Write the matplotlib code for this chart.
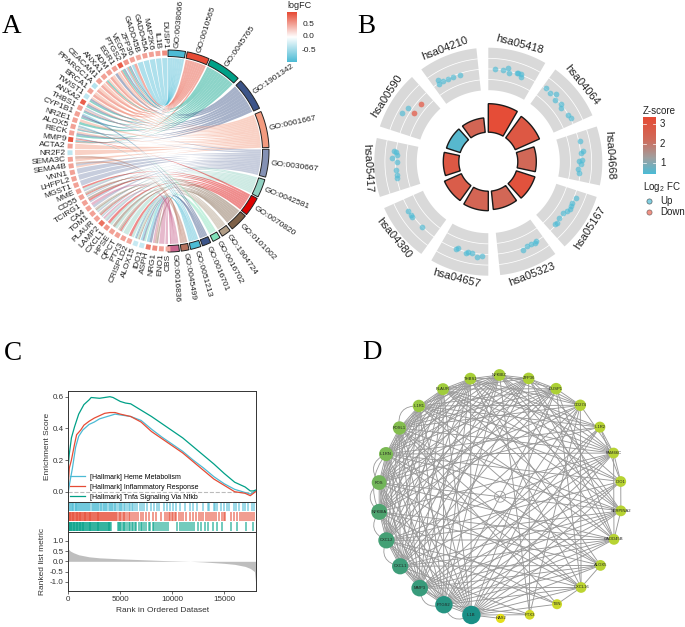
import numpy as np
import matplotlib
matplotlib.use('Agg')
import matplotlib.pyplot as plt
from matplotlib.colors import LinearSegmentedColormap, Normalize
from matplotlib.patches import PathPatch, Polygon, Circle
from matplotlib.path import Path

plt.rcParams['font.family'] = ['Liberation Sans', 'DejaVu Sans']
plt.rcParams['mathtext.fontset'] = 'custom'
plt.rcParams['mathtext.rm'] = 'Liberation Sans'
plt.rcParams['mathtext.default'] = 'rm'

# ---- panel A data
genes = ['DUSP1', 'IL1B', 'MAP2K6', 'GADD45A', 'GADD45B', 'ZFP36', 'VEGFA', 'PTGS2', 'EGR1', 'ADM', 'ANXA1',
         'CEACAM1', 'PPARGC1A', 'BRCA1', 'TWIST1', 'ANXA2', 'THBS1', 'CYP1B1', 'NR2E1', 'ALOX5', 'RECK', 'MMP9',
         'ACTA2', 'NR2F2', 'SEMA3C', 'SEMA4B', 'VNN1', 'LHFPL2', 'MGST1', 'MME', 'CD55', 'TCIRG1', 'CA4', 'TOM1',
         'PLAUR', 'LAMP2', 'CXCL1', 'HPSE', 'QPCT', 'PTX3', 'CRISPLD2', 'ALOX15', 'IDO1', 'ASPH', 'NRG1', 'ENO1', 'CBS']
gene_fc = [0.6, 0.5, 0.5, 0.5, 0.45, 0.5, 0.55, 0.85, 0.5, 0.5, 0.5, 0.5, -0.4, 0.5, -0.35, 0.85, 0.5, 0.5, 0.5,
           0.5, 0.5, 0.9, 0.5, -0.35, 0.5, 0.5, 0.5, 0.5, 0.5, 0.5, 0.5, 0.5, 0.5, 0.5, 0.5, 0.75, 0.55, 0.5, 0.5,
           0.5, 0.45, -0.3, -0.3, 0.7, 0.6, 0.5, 0.45]
go_terms = ['GO:0038066', 'GO:0010565', 'GO:0045765', 'GO:1901342', 'GO:0001667', 'GO:0030667', 'GO:0042581',
            'GO:0070820', 'GO:0101002', 'GO:1904724', 'GO:0016702', 'GO:0016701', 'GO:0051213', 'GO:0045499',
            'GO:0016836']
go_start = [90, 79, 65, 44, 23, 1, -16.5, -28, -40, -52, -59, -65, -71, -78, -83.5]
go_end = [80, 66, 46, 25, 2, -15, -27, -39, -50.5, -57.5, -63.5, -70, -77, -82.5, -90]
go_colors = ['#4DBBD5', '#E64B35', '#00A087', '#3C5488', '#F39B7F', '#8491B4', '#91D1C2', '#DC0000', '#7E6148',
             '#B09C85', '#7FE0B8', '#3C5488', '#4DBBD5', '#B5715C', '#C9648E']
go_links = [
    ['DUSP1', 'IL1B', 'MAP2K6', 'GADD45A', 'GADD45B', 'ZFP36', 'VEGFA'],
    ['ZFP36', 'VEGFA', 'PTGS2', 'ADM', 'ANXA1', 'CEACAM1', 'PPARGC1A', 'BRCA1', 'MMP9'],
    ['VEGFA', 'PTGS2', 'ANXA1', 'TWIST1', 'ANXA2', 'THBS1', 'CYP1B1', 'NR2E1', 'ALOX5', 'RECK', 'MMP9'],
    ['VEGFA', 'PTGS2', 'EGR1', 'TWIST1', 'ANXA2', 'THBS1', 'CYP1B1', 'ALOX5', 'RECK', 'MMP9'],
    ['EGR1', 'ADM', 'ANXA1', 'CEACAM1', 'PPARGC1A', 'BRCA1', 'TWIST1', 'ANXA2', 'THBS1', 'NR2E1', 'ALOX5', 'RECK',
     'MMP9', 'ACTA2', 'NR2F2', 'SEMA3C', 'SEMA4B'],
    ['THBS1', 'ALOX5', 'SEMA4B', 'VNN1', 'LHFPL2', 'MGST1', 'MME', 'CD55', 'TCIRG1', 'CA4', 'TOM1', 'PLAUR', 'LAMP2'],
    ['MME', 'CD55', 'TOM1', 'PLAUR', 'LAMP2', 'CXCL1', 'HPSE', 'QPCT', 'PTX3', 'CRISPLD2'],
    ['MMP9', 'MME', 'CD55', 'TCIRG1', 'PLAUR', 'CXCL1', 'QPCT', 'CRISPLD2'],
    ['CD55', 'TCIRG1', 'TOM1', 'PLAUR', 'HPSE', 'QPCT', 'ALOX15', 'NRG1'],
    ['CD55', 'TOM1', 'PLAUR', 'QPCT', 'ALOX15'],
    ['ALOX5', 'ALOX15', 'IDO1'],
    ['CYP1B1', 'ALOX5', 'ALOX15', 'IDO1', 'ASPH'],
    ['CYP1B1', 'ALOX5', 'MMP9', 'ALOX15', 'IDO1', 'ASPH'],
    ['SEMA3C', 'SEMA4B', 'NRG1'],
    ['CA4', 'LAMP2', 'NRG1', 'ENO1', 'CBS'],
]

# ---- panel B data
terms = ['hsa05418', 'hsa04064', 'hsa04668', 'hsa05167', 'hsa05323', 'hsa04657', 'hsa04380', 'hsa05417',
         'hsa00590', 'hsa04210']
zscore = [3.3, 2.9, 2.3, 3.1, 2.35, 2.4, 2.7, 2.9, 0.55, 2.4]
bar_height = [28.5, 26.5, 18.5, 19.5, 18.5, 19.5, 18.5, 15.5, 14.5, 14.5]
dot_pos = [
    [4.1, 8.9, 12.1, 13.2, 17.8, 18.8, 20.4, 21.2],
    [2.1, 6.1, 9.1, 11.4, 15.7, 17.7, 23.4, 25.9],
    [5.3, 11.4, 12.8, 17, 17.6, 19.2, 22.7, 24.9],
    [4.8, 8.4, 10.1, 12.3, 14, 16.8, 20.6, 23.8, 25.2],
    [4.9, 6, 8.7, 11.5, 14.8],
    [3.6, 7, 9.9, 12.5, 13.9, 19.2, 20.3],
    [9.3, 17.8, 19.5, 22.5],
    [7.7, 9.7, 12.9, 18, 20, 22.2, 23.8, 24.5],
    [11.3, 16, 15.4, 22.4],
    [4.5, 3.8, 6.8, 9.7, 13.6, 17.9],
]
dot_fc = [
    [0.02, 0, 0.25, -0.19, 0, 0.04, 0.06, -0.23],
    [0.11, -0.03, 0.25, -0.17, -0.02, -0.26, -0.06, 0.05],
    [0.11, 0.26, -0.01, 0.11, -0.17, 0.02, -0.24, -0.14],
    [0.18, 0.09, 0.11, 0.17, -0.04, -0.22, -0.19, -0.11, -0.12],
    [-0.05, 0.06, 0.02, -0.05, 0.19],
    [0.16, 0.3, 0.02, -0.06, 0.15, -0.13, 0.02],
    [0.05, 0.13, 0.13, 0.09],
    [0.04, -0.09, 0.02, -0.14, 0.3, -0.08, 0, 0.21],
    [0.55, 0.35, -0.36, -0.42],
    [0.28, -0.08, -0.04, -0.09, -0.08, -0.15],
]
dot_down = [
    [], [], [], [], [], [], [], [], [2, 3], [],
]

# ---- panel C data
rank_green = [0, 100, 300, 600, 1000, 1500, 2000, 2200, 3000, 3500, 4000, 4300, 5000, 5500, 6000, 7000, 8000, 9000,
              10000, 11000, 12000, 13000, 14000, 15000, 16000, 17000, 17500, 17800, 18000]
es_green = [0.17, 0.24, 0.34, 0.41, 0.49, 0.55, 0.58, 0.595, 0.59, 0.595, 0.60, 0.595, 0.57, 0.56, 0.555, 0.515,
            0.475, 0.43, 0.385, 0.34, 0.285, 0.23, 0.175, 0.115, 0.06, 0.03, 0.005, 0.005, 0.01]
rank_red = [0, 100, 300, 600, 800, 1200, 1500, 2000, 2500, 3000, 3500, 4000, 4500, 5000, 6000, 7000, 8000, 9000,
            10000, 11000, 12000, 13000, 14000, 15000, 16000, 17000, 17500, 18000]
es_red = [0.05, 0.15, 0.2, 0.3, 0.36, 0.39, 0.42, 0.445, 0.465, 0.48, 0.495, 0.50, 0.5, 0.49, 0.475, 0.44, 0.38,
          0.335, 0.29, 0.245, 0.19, 0.135, 0.08, 0.04, 0.0, -0.01, -0.025, 0.0]
rank_blue = [0, 150, 400, 700, 1000, 1400, 2000, 2500, 3000, 3500, 4000, 4500, 5000, 6000, 7000, 8000, 9000, 10000,
             11000, 12000, 13000, 14000, 15000, 16000, 17000, 17500, 18000]
es_blue = [0.0, 0.06, 0.15, 0.28, 0.35, 0.39, 0.425, 0.44, 0.46, 0.47, 0.48, 0.49, 0.485, 0.475, 0.45, 0.395, 0.345,
           0.30, 0.255, 0.2, 0.15, 0.095, 0.05, 0.015, -0.005, -0.015, 0.005]
hits_blue = [100, 180, 260, 340, 430, 500, 620, 700, 780, 860, 950, 1020, 1100, 1180, 1300, 1380, 1500, 1580, 1700,
             1790, 1860, 2000, 2100, 2250, 2330, 2450, 2600, 2680, 2800, 2880, 3000, 3100, 3180, 3300, 3430, 3500,
             3640, 3720, 3900, 3980, 4100, 4180, 4300, 4450, 4520, 4700, 4850, 4960, 5100, 5200, 5400, 5480, 5650,
             5800, 5950, 6100, 6200, 6400, 6600, 6900, 7100, 7300, 7600, 8000, 8250, 8500, 8700, 9200, 9450, 9800,
             10100, 10400, 10700, 11200, 11700, 12000, 12400, 13000, 13400, 13500, 14000, 14100, 14300, 14700,
             15000, 15300, 15500, 15900, 16100, 16400, 16800, 17000, 17300, 17700, 17900]
hits_red = [60, 120, 200, 260, 330, 420, 480, 560, 640, 700, 790, 860, 930, 1000, 1090, 1150, 1240, 1330, 1400, 1480,
            1560, 1650, 1720, 1800, 1900, 1980, 2050, 2130, 2230, 2300, 2400, 2480, 2560, 2650, 2740, 2820, 2900,
            2980, 3080, 3170, 3250, 3350, 3450, 3530, 3620, 3700, 3800, 3900, 4000, 4100, 4200, 4320, 4420, 4500,
            4620, 4730, 4850, 4980, 5100, 5250, 5380, 5500, 5640, 5800, 5950, 6100, 6300, 6500, 6700, 6950, 7200,
            7500, 7800, 8100, 8450, 8900, 9300, 9500, 9650, 9800, 9950, 10100, 10250, 10400, 10600, 10800, 11000,
            11300, 11700, 12000, 12300, 12600, 12800, 13000, 13200, 13400, 13600, 13800, 14000, 14250, 14500, 14800,
            15000, 15100, 15600, 15900, 16200, 16500, 16700, 16900, 17100, 17300, 17500, 17700, 17850]
hits_green = [40, 100, 170, 240, 300, 370, 440, 520, 590, 650, 720, 800, 860, 930, 1010, 1080, 1150, 1220, 1310,
              1400, 1460, 1550, 1620, 1700, 1800, 1870, 1950, 2050, 2120, 2200, 2300, 2380, 2470, 2550, 2640, 2750,
              2830, 2900, 3000, 3080, 3180, 3260, 3350, 3430, 3520, 3600, 3700, 3780, 3870, 3950, 4030, 4100, 4750,
              4860, 5000, 5100, 5250, 5330, 5480, 5600, 5800, 5900, 6100, 6200, 6400, 6550, 6800, 7000, 7100, 7300,
              7500, 7750, 7900, 8100, 8200, 8400, 8600, 8800, 9000, 9200, 9400, 9600, 10500, 10700, 10900, 11100,
              11300, 11500, 11700, 11900, 12100, 12500, 12800, 13100, 13400, 13900, 14300, 14800, 15600, 16200,
              17100, 17800]
rank_metric = [0, 200, 500, 1000, 2000, 3000, 5000, 7000, 9000, 11000, 11700, 13000, 15000, 16000, 17000, 17500,
               17900, 18000]
metric = [0.6, 0.5, 0.42, 0.32, 0.22, 0.17, 0.12, 0.08, 0.04, 0.01, 0, -0.03, -0.1, -0.15, -0.25, -0.35, -0.5, -1.0]
gsea_names = ['[Hallmark] Heme Metabolism', '[Hallmark] Inflammatory Response', '[Hallmark] Tnfa Signaling Via Nfkb']

# ---- panel D data, clockwise from IL1B
nodes = ['IL1B', 'PTGS2', 'MMP3', 'CXCL1', 'CXCL2', 'NFKBIA', 'FOS', 'IL1RN', 'FOSL1', 'IL1R1', 'PLAUR', 'THBS1',
         'NFKBIZ', 'ZFP36', 'DUSP1', 'CD274', 'IL1R2', 'FAM46C', 'IDO1', 'SERPINA2', 'GADD45B', 'ALOX5', 'CXCL16',
         'TXN', 'PTX3', 'HAS2']
node_score = [40, 38, 35, 34, 33, 32, 27, 26, 25, 23, 22, 21, 21, 20, 20, 19, 18, 18, 18, 18, 18, 18, 17, 14, 13, 9]
node_size = [9.2, 8.7, 8.3, 8.1, 8.1, 8, 7.4, 7, 6.7, 6.2, 6, 5.9, 5.9, 5.8, 5.8, 5.7, 5.5, 5.4, 5.4, 5.4, 5.4, 5.4,
             5.4, 5, 4.9, 4.6]
links = {
    0: [1, 2, 3, 4, 5, 6, 7, 8, 9, 10, 11, 14, 15, 16, 17, 18, 19, 20, 21, 22, 23, 24, 25],
    1: [2, 3, 4, 5, 6, 7, 8, 9, 10, 11, 12, 14, 15, 16, 17, 18, 19, 20, 21, 22, 24],
    2: [3, 4, 5, 6, 7, 8, 9, 10, 11, 12, 13, 16, 17, 18, 19, 20, 21, 22],
    3: [4, 5, 6, 7, 8, 9, 10, 11, 12, 13, 14, 15, 17, 19, 20, 21, 24],
    4: [5, 6, 7, 8, 9, 10, 11, 12, 13, 14, 17, 18, 19, 20, 22, 23],
    5: [6, 7, 8, 9, 10, 11, 12, 13, 14, 15, 17, 20, 21, 23],
    6: [7, 8, 9, 10, 11, 12, 13, 14, 15, 16, 19, 20, 22],
    7: [8, 9, 10, 11, 12, 13, 14, 16, 17, 18, 19, 21, 22],
    8: [9, 10, 11, 12, 13, 14, 15, 17, 19, 21, 22, 23],
    9: [10, 11, 12, 14, 15, 16, 17, 18, 20, 21],
    10: [11, 12, 13, 14, 16, 17, 18, 19, 20],
    11: [12, 13, 15, 16, 17, 19, 21, 22],
    12: [13, 14, 15, 17, 18, 19, 20, 24],
    13: [14, 15, 17, 19, 20, 24],
    14: [15, 20, 22],
    15: [17, 22, 24],
    16: [17, 18],
    17: [18, 20],
    18: [19],
    19: [20],
    21: [22],
    22: [23],
}
curved_links = [(5, 6), (5, 7), (6, 7), (8, 9), (0, 1), (3, 4), (4, 5), (1, 2)]


def to_xy(cx, cy, r, deg):
    a = np.radians(deg)
    return cx + r * np.cos(a), cy - r * np.sin(a)


def sector(cx, cy, r0, r1, a0, a1):
    t = np.linspace(a0, a1, 30)
    x0, y0 = to_xy(cx, cy, r0, t)
    x1, y1 = to_xy(cx, cy, r1, t[::-1])
    return np.column_stack([np.r_[x0, x1], np.r_[y0, y1]])


fig = plt.figure(figsize=(6.85, 6.27), dpi=100)
ax = fig.add_axes([0, 0, 1, 1])
ax.set_xlim(0, 685)
ax.set_ylim(627, 0)
ax.axis('off')

for letter, lx, ly in [('A', 2, 33), ('B', 357, 33), ('C', 4, 360), ('D', 362, 359)]:
    ax.text(lx, ly, letter, family='Liberation Serif', fontsize=19.5, va='baseline', ha='left')

# ---- A: chord diagram
ax_cx, ax_cy = 168, 151
fc_cmap = LinearSegmentedColormap.from_list('fc', ['#4DBBD5', '#FFFFFF', '#E64B35'])
fc_norm = Normalize(-0.96, 0.96)
gene_angle = 92 + np.arange(len(genes)) * 178 / 46
gene_width = 3.3

# each gene band is split between the terms that use it
n_use = {g: sum(g in lst for lst in go_links) for g in genes}
used = {g: 0 for g in genes}
for k, lst in enumerate(go_links):
    lst = sorted(lst, key=genes.index)
    edges = np.linspace(go_start[k], go_end[k], len(lst) + 1)
    for j, g in enumerate(lst):
        i = genes.index(g)
        step = gene_width / n_use[g]
        b0 = gene_angle[i] + gene_width / 2 - step * used[g]
        b1 = b0 - step
        used[g] += 1
        p0 = to_xy(ax_cx, ax_cy, 93, edges[j])
        p1 = to_xy(ax_cx, ax_cy, 93, edges[j + 1])
        p2 = to_xy(ax_cx, ax_cy, 93, b0)
        p3 = to_xy(ax_cx, ax_cy, 93, b1)
        verts = [p0, p1, (ax_cx, ax_cy), p3, p2, (ax_cx, ax_cy), p0]
        codes = [Path.MOVETO, Path.LINETO, Path.CURVE3, Path.CURVE3, Path.LINETO, Path.CURVE3, Path.CURVE3]
        ax.add_patch(PathPatch(Path(verts, codes), fc=go_colors[k], ec='none', lw=0, alpha=0.45, zorder=2))

for k, name in enumerate(go_terms):
    ax.add_patch(Polygon(sector(ax_cx, ax_cy, 94.5, 101, go_start[k], go_end[k]), fc=go_colors[k], ec='#222222',
                         lw=0.7, zorder=3))
    mid = (go_start[k] + go_end[k]) / 2
    tx, ty = to_xy(ax_cx, ax_cy, 103.5, mid)
    ax.text(tx, ty, name, fontsize=6, rotation=mid, rotation_mode='anchor', ha='left', va='center', color='#222222')

for i, g in enumerate(genes):
    ax.add_patch(Polygon(sector(ax_cx, ax_cy, 95.5, 100.5, gene_angle[i] - 1.4, gene_angle[i] + 1.4),
                         fc=fc_cmap(fc_norm(gene_fc[i])), ec='none', zorder=3))
    tx, ty = to_xy(ax_cx, ax_cy, 102.5, gene_angle[i])
    ax.text(tx, ty, g, fontsize=6, rotation=gene_angle[i] - 180, rotation_mode='anchor', ha='right', va='center',
            color='#222222')

ax.imshow(np.linspace(0.96, -0.96, 100)[:, None], cmap=fc_cmap, norm=fc_norm, extent=(287, 297, 62, 12), aspect='auto',
          zorder=3)
ax.text(287, 6, 'logFC', fontsize=6.5, va='center', color='#222222')
for v, lab in [(0.5, '0.5'), (0.0, '0.0'), (-0.5, '-0.5')]:
    ax.text(309, 37 - v * 26, lab, fontsize=6, va='center', ha='center', color='#222222')

# ---- B: circle plot
bx, by = 488.3, 161.7
z_cmap = LinearSegmentedColormap.from_list('z', [(0, '#4DBBD5'), (0.28, '#A0A0A0'), (0.6, '#CF6B5B'), (1, '#E64B35')])
z_norm = Normalize(0.44, 3.36)
ring = 71.5 + 10.625 * np.arange(5)
for i, name in enumerate(terms):
    a0 = 90 - 36 * i
    a1 = a0 - 30
    ax.add_patch(Polygon(sector(bx, by, ring[0], ring[-1], a0, a1), fc='#D9D9D9', ec='none', zorder=2))
    for r in ring[1:-1]:
        t = np.linspace(a0, a1, 30)
        ax.plot(*to_xy(bx, by, r, t), color='white', lw=0.55, zorder=3)
    ax.add_patch(Polygon(sector(bx, by, 29.5, 29.5 + bar_height[i], a0, a1), fc=z_cmap(z_norm(zscore[i])),
                         ec='#1a1a1a', lw=1.0, zorder=3))
    for j, (off, v) in enumerate(zip(dot_pos[i], dot_fc[i])):
        x, y = to_xy(bx, by, ring[2] + v * 10.6, a0 - off)
        col = '#E64B35' if j in dot_down[i] else '#4DBBD5'
        ax.scatter(x, y, s=17, color=col, alpha=0.65, linewidths=0, zorder=4)
    mid = a0 - 15
    tx, ty = to_xy(bx, by, 121, mid)
    rot = mid - 90 if (mid % 360) < 180 else mid + 90
    ax.text(tx, ty, name, fontsize=8, rotation=rot, rotation_mode='anchor', ha='center', va='center', color='#222222')

ax.text(643, 111, 'Z-score', fontsize=7, va='center', color='#222222')
ax.imshow(np.linspace(3.36, 0.44, 100)[:, None], cmap=z_cmap, norm=z_norm, extent=(643.5, 656, 174, 117),
          aspect='auto', zorder=3)
for v in [1, 2, 3]:
    ty = 174 - (v - 0.44) * 19.5
    ax.text(660, ty, str(v), fontsize=7, va='center', color='#222222')
    ax.plot([643.5, 646], [ty, ty], color='white', lw=0.5, zorder=4)
    ax.plot([653.5, 656], [ty, ty], color='white', lw=0.5, zorder=4)
ax.text(643, 187, 'Log$_2$ FC', fontsize=7, va='center', color='#222222')
ax.scatter([649.5], [200.5], s=14, color='#4DBBD5', alpha=0.7, edgecolors='#333333', linewidths=0.5, zorder=4)
ax.scatter([649.5], [212], s=14, color='#E64B35', alpha=0.6, edgecolors='#333333', linewidths=0.5, zorder=4)
ax.text(660, 200.5, 'Up', fontsize=7, va='center', color='#222222')
ax.text(660, 212, 'Down', fontsize=7, va='center', color='#222222')

# ---- D: network
dx, dy = 500, 496.7
node_angle = 256.4 - 13.846 * np.arange(len(nodes))
nx, ny = to_xy(dx, dy, 121.7, node_angle)
for a, others in links.items():
    for b in others:
        ax.plot([nx[a], nx[b]], [ny[a], ny[b]], color='#999999', lw=0.65, zorder=2)
for a, b in curved_links:
    mx, my = (nx[a] + nx[b]) / 2, (ny[a] + ny[b]) / 2
    cx, cy = dx + (mx - dx) * 1.15, dy + (my - dy) * 1.15
    ax.add_patch(PathPatch(Path([(nx[a], ny[a]), (cx, cy), (nx[b], ny[b])], [Path.MOVETO, Path.CURVE3, Path.CURVE3]),
                           fc='none', ec='#999999', lw=0.6, zorder=2))
ax.add_patch(Circle((dx, dy), 5.5, fc='none', ec='#999999', lw=0.6, zorder=2))
node_cmap = LinearSegmentedColormap.from_list('node', ['#E4DF1A', '#C5D62E', '#A5CF38', '#6DB25E', '#3F9E78', '#1A8F86'])
score_norm = Normalize(min(node_score), max(node_score))
for i, name in enumerate(nodes):
    ax.add_patch(Circle((nx[i], ny[i]), node_size[i], fc=node_cmap(score_norm(node_score[i])), ec='none', zorder=3))
    ax.text(nx[i], ny[i], name, fontsize=3, ha='center', va='center', color='#222222', zorder=4)

# ---- C: GSEA plot
W, H = 685.0, 627.0
x0, x1 = 68.3, 256
ax_es = fig.add_axes([x0 / W, 1 - 501.7 / H, (x1 - x0) / W, (501.7 - 391) / H])
ax_rug = fig.add_axes([x0 / W, 1 - 531.7 / H, (x1 - x0) / W, 30 / H])
ax_rank = fig.add_axes([x0 / W, 1 - 590.7 / H, (x1 - x0) / W, 59 / H])

ax_es.plot(rank_blue, es_blue, color='#4DBBD5', lw=0.9, label=gsea_names[0])
ax_es.plot(rank_red, es_red, color='#E64B35', lw=0.9, label=gsea_names[1])
ax_es.plot(rank_green, es_green, color='#00A087', lw=0.9, label=gsea_names[2])
ax_es.axhline(0, color='#BBBBBB', ls='--', lw=0.8, zorder=0)
ax_es.set_xlim(0, 18050)
ax_es.set_ylim(-0.063, 0.636)
ax_es.set_xticks([])
ax_es.set_yticks([0, 0.2, 0.4, 0.6])
ax_es.set_yticklabels(['0.0', '0.2', '0.4', '0.6'])
ax_es.set_ylabel('Enrichment Score', fontsize=6, color='#333333', labelpad=1)
ax_es.legend(loc='lower left', bbox_to_anchor=(0.0, -0.005), frameon=False, fontsize=5, handlelength=2.2,
             handletextpad=0.7, labelspacing=0.45, borderpad=0.1, borderaxespad=0.1)

for row, (hits, col) in enumerate([(hits_blue, '#4DBBD5'), (hits_red, '#E64B35'), (hits_green, '#00A087')]):
    ax_rug.vlines(hits, 2 - row + 0.04, 3 - row - 0.04, color=col, lw=1.3, alpha=0.6)
ax_rug.set_xlim(0, 18050)
ax_rug.set_ylim(0, 3)
ax_rug.set_xticks([])
ax_rug.set_yticks([])

ax_rank.fill_between(rank_metric, metric, 0, color='#BEBEBE', lw=0)
ax_rank.set_xlim(0, 18050)
ax_rank.set_ylim(-1.44, 1.45)
ax_rank.set_xticks([0, 5000, 10000, 15000])
ax_rank.set_yticks([-1, -0.5, 0, 0.5, 1])
ax_rank.set_yticklabels(['-1.0', '-0.5', '0.0', '0.5', '1.0'])
ax_rank.set_xlabel('Rank in Ordered Dataset', fontsize=6, color='#333333', labelpad=3)
ax_rank.set_ylabel('Ranked list metric', fontsize=6, color='#333333', labelpad=3)

for a in [ax_es, ax_rug, ax_rank]:
    a.tick_params(labelsize=5.8, length=2, width=0.5, pad=1.5, colors='#333333')
    for s in a.spines.values():
        s.set_linewidth(0.7)
        s.set_color('#333333')

fig.savefig('out.png', dpi=100)
